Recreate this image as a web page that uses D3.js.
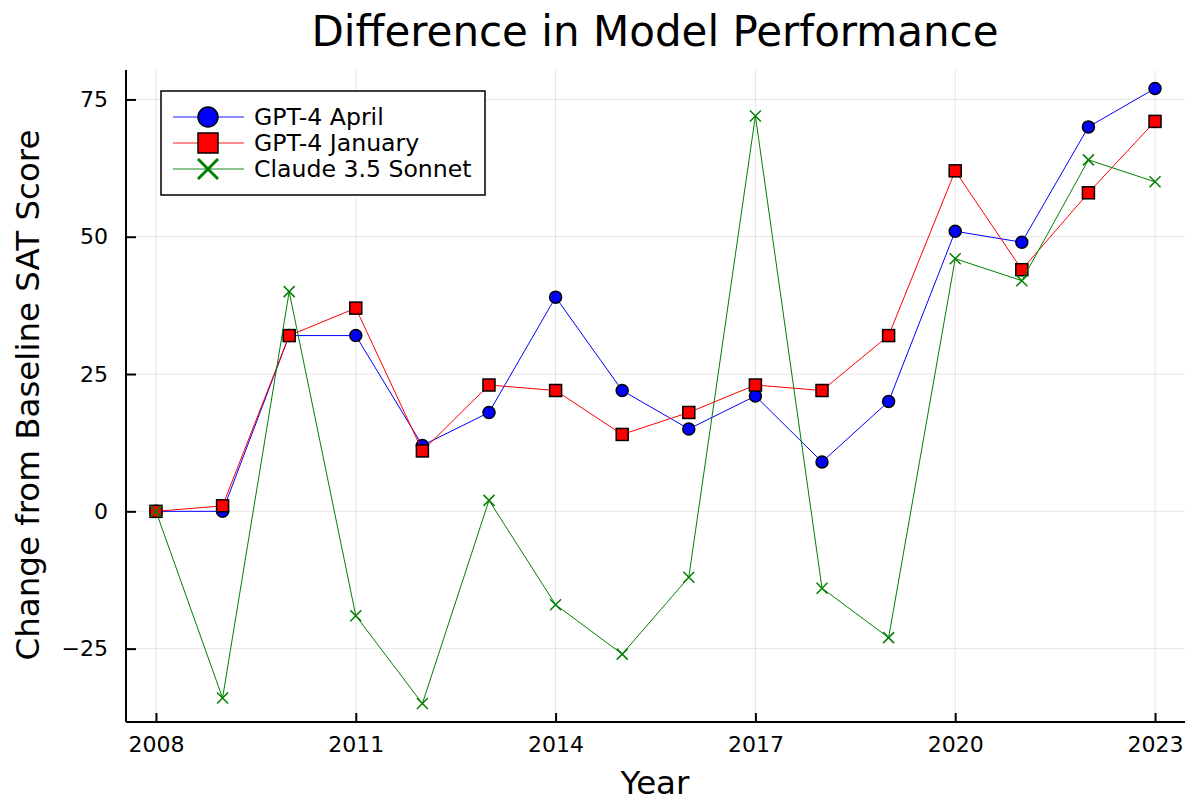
<!DOCTYPE html>
<html>
<head>
<meta charset="utf-8">
<script src="https://cdn.jsdelivr.net/npm/d3@7"></script>
<style>
  body { margin: 0; background: #fff; }
  text { font-family: "DejaVu Sans", sans-serif; fill: #000; }
</style>
</head>
<body>
<svg id="chart" width="1195" height="801"></svg>
<script>
// values
var years = [2008, 2009, 2010, 2011, 2012, 2013, 2014, 2015, 2016, 2017, 2018, 2019, 2020, 2021, 2022, 2023];
var gpt4April = [0, 0, 32, 32, 12, 18, 39, 22, 15, 21, 9, 20, 51, 49, 70, 77];
var gpt4January = [0, 1, 32, 37, 11, 23, 22, 14, 18, 23, 22, 32, 62, 44, 58, 71];
var claudeSonnet = [0, -34, 40, -19, -35, 2, -17, -26, -12, 72, -14, -23, 46, 42, 64, 60];
var xTicks = [2008, 2011, 2014, 2017, 2020, 2023];
var yTicks = [-25, 0, 25, 50, 75];

var series = [
    {name: "GPT-4 April", values: gpt4April, color: "blue", marker: "circle"},
    {name: "GPT-4 January", values: gpt4January, color: "red", marker: "square"},
    {name: "Claude 3.5 Sonnet", values: claudeSonnet, color: "green", marker: "cross"}
];

var svg = d3.select("#chart");
var plot = {left: 126, right: 1185, top: 70, bottom: 722};

var x = d3.scaleLinear().domain([2007.55, 2023.45]).range([plot.left, plot.right]);
var y = d3.scaleLinear().domain([-38.36, 80.36]).range([plot.bottom, plot.top]);

// grid
svg.append("g").selectAll("line").data(xTicks).enter().append("line")
    .attr("x1", function(d){ return x(d); }).attr("x2", function(d){ return x(d); })
    .attr("y1", plot.top).attr("y2", plot.bottom)
    .attr("stroke", "#000").attr("stroke-opacity", 0.1).attr("stroke-width", 1);
svg.append("g").selectAll("line").data(yTicks).enter().append("line")
    .attr("x1", plot.left).attr("x2", plot.right)
    .attr("y1", function(d){ return y(d); }).attr("y2", function(d){ return y(d); })
    .attr("stroke", "#000").attr("stroke-opacity", 0.1).attr("stroke-width", 1);

// axes, ticks pointing inward
var xAxis = d3.axisBottom(x).tickValues(xTicks).tickFormat(d3.format("d"))
    .tickSizeInner(-9).tickSizeOuter(0).tickPadding(14);
var gx = svg.append("g").attr("transform", "translate(0," + plot.bottom + ")").call(xAxis);
var yAxis = d3.axisLeft(y).tickValues(yTicks).tickFormat(function(d){ return d < 0 ? "\u2212" + Math.abs(d) : d; })
    .tickSizeInner(-10).tickSizeOuter(0).tickPadding(18);
var gy = svg.append("g").attr("transform", "translate(" + plot.left + ",0)").call(yAxis);
[gx, gy].forEach(function(g){
    g.attr("font-size", null).attr("font-family", null);
    g.select(".domain").attr("stroke", "#000").attr("stroke-width", 2);
    g.selectAll(".tick line").attr("stroke", "#000").attr("stroke-width", 2);
    g.selectAll(".tick text").style("font-size", "22px").attr("fill", "#000");
});
gy.select(".domain").attr("d", "M0," + plot.top + "V" + plot.bottom);
gx.select(".domain").attr("d", "M" + plot.left + ",0H" + plot.right);

function drawMarker(g, type, color, cx, cy, size) {
    if (type === "circle") {
        g.append("circle").attr("cx", cx).attr("cy", cy).attr("r", size / 2)
            .attr("fill", color).attr("stroke", "#000").attr("stroke-width", 1.5);
    } else if (type === "square") {
        g.append("rect").attr("x", cx - size / 2).attr("y", cy - size / 2)
            .attr("width", size).attr("height", size)
            .attr("fill", color).attr("stroke", "#000").attr("stroke-width", 1.5);
    } else {
        var h = size / 2;
        g.append("path").attr("d", "M" + (cx - h) + "," + (cy - h) + "L" + (cx + h) + "," + (cy + h) +
            "M" + (cx - h) + "," + (cy + h) + "L" + (cx + h) + "," + (cy - h))
            .attr("stroke", color).attr("stroke-width", 1.5).attr("fill", "none");
    }
}

var line = d3.line().x(function(d, i){ return x(years[i]); }).y(function(d){ return y(d); });

series.forEach(function(s){
    var g = svg.append("g");
    g.append("path").datum(s.values).attr("d", line)
        .attr("fill", "none").attr("stroke", s.color).attr("stroke-width", 1);
    s.values.forEach(function(v, i){
        drawMarker(g, s.marker, s.color, x(years[i]), y(v), s.marker === "cross" ? 11 : 12);
    });
});

// legend
var lg = svg.append("g");
lg.append("rect").attr("x", 161).attr("y", 91).attr("width", 324).attr("height", 104)
    .attr("fill", "#fff").attr("stroke", "#000").attr("stroke-width", 1.5);
series.forEach(function(s, i){
    var cy = 117 + i * 26;
    lg.append("line").attr("x1", 173).attr("x2", 244).attr("y1", cy).attr("y2", cy)
        .attr("stroke", s.color).attr("stroke-opacity", 0.6).attr("stroke-width", 1.5);
    drawMarker(lg, s.marker, s.color, 208, cy, 20);
    lg.append("text").attr("x", 254).attr("y", cy).attr("dy", "0.35em")
        .style("font-size", "23.6px").text(s.name);
});
lg.selectAll("path").attr("stroke-width", 3);

// titles
svg.append("text").attr("x", 655).attr("y", 31).attr("dy", "0.35em").attr("text-anchor", "middle")
    .style("font-size", "42px").text("Difference in Model Performance");
svg.append("text").attr("x", 655).attr("y", 783).attr("dy", "0.35em").attr("text-anchor", "middle")
    .style("font-size", "32.5px").text("Year");
svg.append("text").attr("transform", "translate(28,395) rotate(-90)").attr("dy", "0.35em")
    .attr("text-anchor", "middle").style("font-size", "32.5px").text("Change from Baseline SAT Score");
</script>
</body>
</html>
